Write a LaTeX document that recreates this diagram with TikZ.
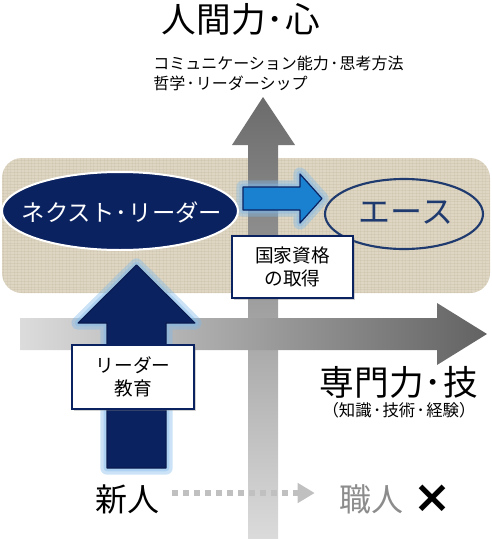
\documentclass[tikz,border=0pt]{standalone}
\usepackage{fontspec}
\setmainfont{Noto Sans CJK JP}
\newfontfamily\symfont{DejaVu Sans}
\usetikzlibrary{arrows.meta,shadows,patterns.meta}
\definecolor{navy}{HTML}{0B2261}
\definecolor{navyline}{HTML}{1F3A6E}
\definecolor{beige}{HTML}{DED6C3}
\definecolor{beigedark}{HTML}{BFB398}
\definecolor{glow}{HTML}{7FB9EA}
\definecolor{bluearrow}{HTML}{1A80D0}
\definecolor{dotgray}{HTML}{C0C0C0}
\definecolor{craftgray}{HTML}{8C8C8C}
\newcommand{\fs}[1]{\fontsize{#1}{#1}\selectfont}
\newcommand{\dotsep}{\hspace{1pt}･\hspace{1pt}}
\tikzset{
  labelbox/.style={draw=navy, line width=0.8pt, fill=white, inner sep=0pt,
    font=\fontsize{14pt}{17pt}\selectfont, align=center,
    drop shadow={shadow xshift=1.5pt, shadow yshift=-1.5pt, opacity=0.35}},
  glowline/.style={draw=glow, line width=#1, opacity=0.4, line join=round},
  plaintext/.style={inner sep=0pt, text=black},
}
\begin{document}
\begin{tikzpicture}[x=0.75pt,y=-0.75pt]
\useasboundingbox (0,0) rectangle (492,539);
% beige band with light woven texture
\fill[beige, rounded corners=15pt] (2,158) rectangle (490,293);
\begin{scope}
  \clip[rounded corners=15pt] (2,158) rectangle (490,293);
  \fill[pattern={Lines[angle=0,distance=2.2pt,line width=0.3pt]}, pattern color=beigedark, opacity=0.25] (2,158) rectangle (490,293);
  \fill[pattern={Lines[angle=90,distance=2.6pt,line width=0.3pt]}, pattern color=beigedark, opacity=0.2] (2,158) rectangle (490,293);
\end{scope}
% vertical gray arrow
\shade[top color={rgb,255:red,107;green,107;blue,107}, bottom color={rgb,255:red,219;green,219;blue,219}]
  (248,539) -- (248,145) -- (232,145) -- (263,97) -- (295,145) -- (278,145) -- (278,539) -- cycle;
% horizontal gray arrow
\shade[left color={rgb,255:red,220;green,220;blue,220}, right color={rgb,255:red,98;green,98;blue,98}]
  (20,318) -- (437,318) -- (437,303) -- (487,334) -- (437,365) -- (437,350) -- (20,350) -- cycle;
% navy up arrow with glow
\path[glowline=10pt] (107,468) -- (107,323) -- (78,323) -- (136.5,265) -- (195,323) -- (166,323) -- (166,468) -- cycle;
\path[glowline=5pt] (107,468) -- (107,323) -- (78,323) -- (136.5,265) -- (195,323) -- (166,323) -- (166,468) -- cycle;
\filldraw[fill=navy, draw=navy!80!black, line width=0.8pt, line join=round]
  (107,468) -- (107,323) -- (78,323) -- (136.5,265) -- (195,323) -- (166,323) -- (166,468) -- cycle;
% blue right arrow with glow
\path[glowline=10pt] (243,187) -- (300,187) -- (300,174) -- (322,198.5) -- (300,223) -- (300,210) -- (243,210) -- cycle;
\path[glowline=5pt] (243,187) -- (300,187) -- (300,174) -- (322,198.5) -- (300,223) -- (300,210) -- (243,210) -- cycle;
\filldraw[fill=bluearrow, draw=navy, line width=0.9pt, line join=round]
  (243,187) -- (300,187) -- (300,174) -- (322,198.5) -- (300,223) -- (300,210) -- (243,210) -- cycle;
% ellipses
\filldraw[fill=navy, draw=white, line width=1.5pt] (120,211) ellipse [x radius=118, y radius=39];
\node[plaintext, text=white] (next) at (122,212) {\fs{17.5pt}ネクスト\dotsep リーダー};
\draw[navyline, line width=1.6pt] (404,214) ellipse [x radius=79, y radius=35];
\node[plaintext, text=navyline] (ace) at (406,213) {\fs{24pt}エース};
% label boxes
\node[labelbox, minimum width=121*0.75pt, minimum height=62*0.75pt] (kokka) at (292.5,267)
  {国家資格\\の取得};
\node[labelbox, minimum width=122*0.75pt, minimum height=64*0.75pt] (leader) at (133,377)
  {リーダー\\教育};
% titles
\node[plaintext] (human) at (241,19) {\fs{26pt}人間力\dotsep 心};
\node[plaintext, anchor=west, align=left, font=\fontsize{12pt}{14.5pt}\selectfont] (sub) at (153,73.5)
  {コミュニケーション能力\dotsep 思考方法\\哲学\dotsep リーダーシップ};
\node[plaintext] (senmon) at (399,382) {\fs{26pt}専門力\dotsep 技};
\node[plaintext] (chishiki) at (399,410) {\fs{12.3pt}（知識\dotsep 技術\dotsep 経験）};
% bottom row
\node[plaintext] (shinjin) at (127,499) {\fs{24pt}新人};
\node[plaintext, text=craftgray] (shokunin) at (371,499) {\fs{24pt}職人};
\node[plaintext] (batsu) at (432,499) {\symfont\bfseries\fs{34pt}×};
\draw[dotgray, line width=6*0.75pt, dash pattern=on 6*0.75pt off 5*0.75pt,
  -{Triangle[length=17*0.75pt, width=19*0.75pt]}]
  ([xshift=13*0.75pt]shinjin.east |- 0,493) -- ([xshift=-24*0.75pt]shokunin.west |- 0,493);
\end{tikzpicture}
\end{document}
